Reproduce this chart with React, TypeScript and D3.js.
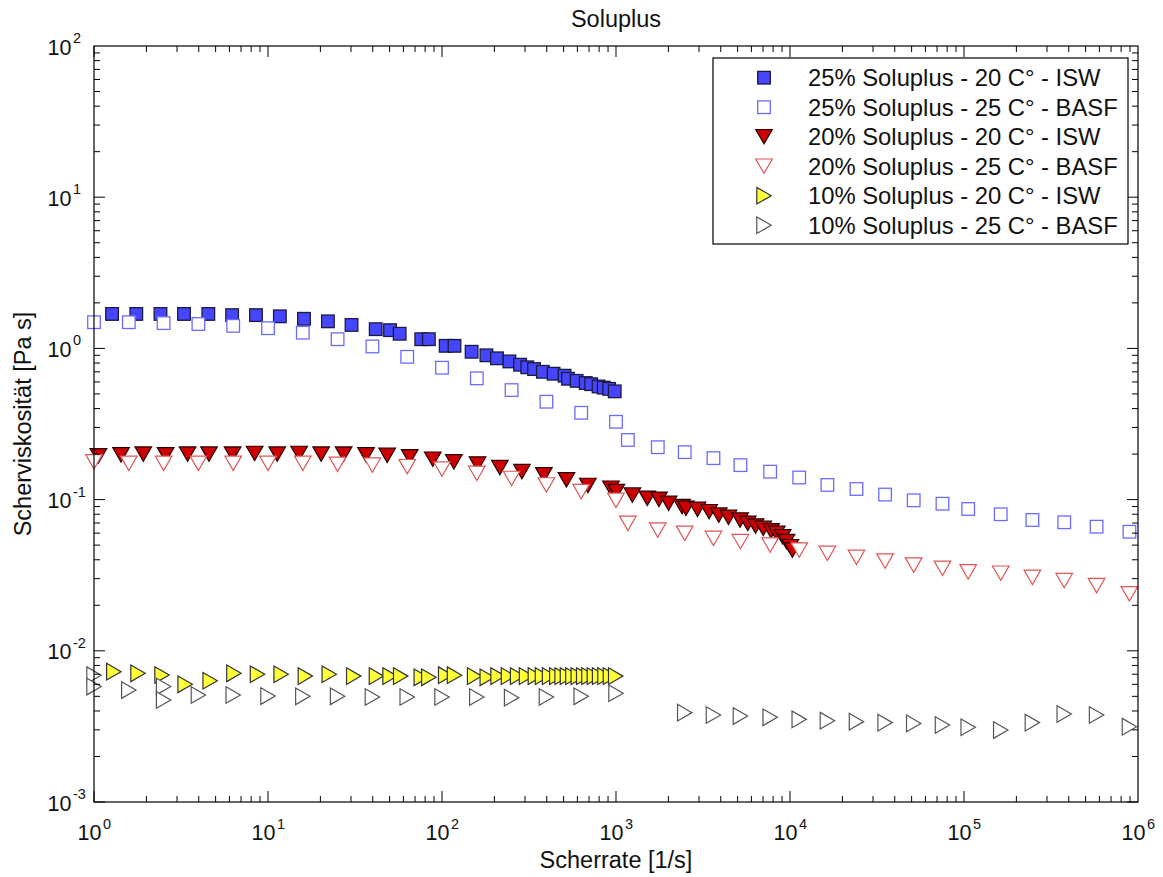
import React from "react";
import * as d3 from "d3";

// ---- Data ----
const isw25X = [1.27, 1.75, 2.41, 3.29, 4.54, 6.22, 8.53, 11.7, 16.1, 22.1, 30.2, 41.6, 50.3, 57.1, 76, 84, 105, 118, 148, 180, 207, 244, 281, 309, 338, 380, 438, 506, 530, 594, 670, 720, 794, 850, 913, 983];
const isw25Y = [1.69, 1.69, 1.69, 1.69, 1.69, 1.66, 1.66, 1.63, 1.57, 1.51, 1.43, 1.34, 1.32, 1.25, 1.15, 1.15, 1.04, 1.04, 0.95, 0.9, 0.86, 0.82, 0.78, 0.75, 0.73, 0.7, 0.68, 0.66, 0.63, 0.61, 0.59, 0.58, 0.56, 0.55, 0.54, 0.52];

const basfX = [1, 1.585, 2.512, 3.981, 6.31, 10, 15.85, 25.12, 39.81, 63.1, 100, 158.5, 251.2, 398.1, 631, 1000, 1170, 1738, 2483, 3631, 5188, 7691, 11300, 16400, 24100, 35200, 51400, 75200, 105700, 162600, 247200, 376700, 578000, 893000];
const basf25Y = [1.49, 1.49, 1.47, 1.45, 1.41, 1.36, 1.27, 1.15, 1.03, 0.88, 0.745, 0.634, 0.53, 0.444, 0.375, 0.327, 0.248, 0.222, 0.206, 0.188, 0.169, 0.153, 0.14, 0.125, 0.1175, 0.108, 0.0989, 0.0939, 0.0867, 0.08, 0.0733, 0.0708, 0.0662, 0.0613];

const isw20X = [1.06, 1.43, 1.92, 2.58, 3.45, 4.58, 6.26, 8.38, 11.3, 15.1, 20.2, 27.2, 36.6, 48.4, 65.2, 88.5, 117, 160, 215, 288, 385, 519, 689, 935, 1004, 1242, 1513, 1765, 2005, 2398, 2524, 2940, 3428, 3897, 4429, 5166, 5717, 6339, 7017, 7778, 8395, 9072, 9550, 10050, 10320];
const isw20Y = [0.195, 0.198, 0.2, 0.198, 0.2, 0.2, 0.2, 0.202, 0.2, 0.202, 0.2, 0.2, 0.198, 0.196, 0.192, 0.185, 0.178, 0.172, 0.163, 0.153, 0.146, 0.135, 0.124, 0.119, 0.113, 0.107, 0.102, 0.1005, 0.0946, 0.0898, 0.0876, 0.0862, 0.0832, 0.079, 0.0763, 0.0733, 0.0697, 0.0669, 0.0645, 0.0622, 0.0598, 0.0568, 0.0527, 0.0488, 0.0464];

const basf20Y = [0.178, 0.174, 0.174, 0.174, 0.174, 0.174, 0.174, 0.171, 0.169, 0.165, 0.159, 0.149, 0.138, 0.125, 0.113, 0.099, 0.0697, 0.0629, 0.0598, 0.0554, 0.0527, 0.0501, 0.0464, 0.0441, 0.0415, 0.0392, 0.0369, 0.0351, 0.0333, 0.0326, 0.0306, 0.0291, 0.027, 0.0238];

const isw10X = [1.3, 1.79, 2.46, 3.34, 4.65, 6.37, 8.7, 11.9, 16.4, 22.5, 31.1, 42, 50.3, 57.9, 76, 84, 105, 118, 154, 182, 210, 241, 272, 306, 344, 378, 415, 457, 490, 526, 565, 607, 652, 699, 751, 805, 864, 929, 996];
const isw10Y = [0.00728, 0.0071, 0.00692, 0.006, 0.00634, 0.0071, 0.007, 0.007, 0.0068, 0.007, 0.0068, 0.0068, 0.0068, 0.0068, 0.00668, 0.00668, 0.0069, 0.0069, 0.0068, 0.00668, 0.0068, 0.0068, 0.0068, 0.0068, 0.0068, 0.0068, 0.0068, 0.0068, 0.0068, 0.0068, 0.0068, 0.0068, 0.0068, 0.0068, 0.0068, 0.0068, 0.0068, 0.0068, 0.0068];

const basf10X = [1, 1, 1.585, 2.512, 2.512, 3.981, 6.31, 10, 15.85, 25.12, 39.81, 63.1, 100, 158.5, 251.2, 398.1, 631, 1000, 2483, 3631, 5188, 7691, 11300, 16400, 24100, 35200, 51400, 75200, 105700, 162600, 247200, 376700, 578000, 893000];
const basf10Y = [0.0069, 0.0058, 0.0055, 0.0058, 0.00473, 0.0051, 0.0051, 0.00502, 0.005, 0.005, 0.00495, 0.00495, 0.00495, 0.00495, 0.0049, 0.00495, 0.005, 0.00524, 0.0039, 0.00376, 0.0037, 0.00363, 0.00352, 0.00345, 0.0034, 0.00335, 0.00331, 0.00323, 0.00312, 0.00299, 0.00335, 0.00382, 0.00376, 0.00315];

const seriesLabels = [
  "25% Soluplus - 20 C° - ISW",
  "25% Soluplus - 25 C° - BASF",
  "20% Soluplus - 20 C° - ISW",
  "20% Soluplus - 25 C° - BASF",
  "10% Soluplus - 20 C° - ISW",
  "10% Soluplus - 25 C° - BASF",
];

const xTickExps = [0, 1, 2, 3, 4, 5, 6];
const yTickExps = [-3, -2, -1, 0, 1, 2];

// ---- Layout ----
const W = 1163, H = 877;
const L = 94, R = 1138, T = 46, B = 802;
const FONT = "'Liberation Sans', Arial, Helvetica, sans-serif";

type Shape = "square" | "down" | "right";
interface Style { shape: Shape; fill: string; stroke: string; }

const styles: Style[] = [
  { shape: "square", fill: "#4646ff", stroke: "#1a1a40" },
  { shape: "square", fill: "#ffffff", stroke: "#6b6bff" },
  { shape: "down", fill: "#cc0000", stroke: "#2a0000" },
  { shape: "down", fill: "#ffffff", stroke: "#e05555" },
  { shape: "right", fill: "#ffff3a", stroke: "#333333" },
  { shape: "right", fill: "#ffffff", stroke: "#555555" },
];

function Marker({ x, y, s }: { x: number; y: number; s: Style }) {
  if (s.shape === "square") {
    return <rect x={x - 6.3} y={y - 6.3} width={12.6} height={12.6} fill={s.fill} stroke={s.stroke} strokeWidth={1.3} />;
  }
  if (s.shape === "down") {
    const p = `M${x - 8.3},${y - 7.2}L${x + 8.3},${y - 7.2}L${x},${y + 7.2}Z`;
    return <path d={p} fill={s.fill} stroke={s.stroke} strokeWidth={1.2} />;
  }
  const p = `M${x - 7.2},${y - 8.3}L${x + 7.2},${y}L${x - 7.2},${y + 8.3}Z`;
  return <path d={p} fill={s.fill} stroke={s.stroke} strokeWidth={1.2} />;
}

export default function App() {
  const xs = d3.scaleLog().domain([1, 1e6]).range([L, R]);
  const ys = d3.scaleLog().domain([1e-3, 1e2]).range([B, T]);

  const data: [number[], number[]][] = [
    [isw25X, isw25Y],
    [basfX, basf25Y],
    [isw20X, isw20Y],
    [basfX, basf20Y],
    [isw10X, isw10Y],
    [basf10X, basf10Y],
  ];
  // draw order: filled series first, then open markers on top
  const order = [0, 2, 4, 1, 3, 5];

  const ticks: JSX.Element[] = [];
  for (let e = 0; e < 6; e++) {
    for (let m = 1; m < 10; m++) {
      const v = m * Math.pow(10, e);
      const px = xs(v);
      const len = m === 1 ? 11 : 6;
      ticks.push(<line key={`xb${e}${m}`} x1={px} x2={px} y1={B} y2={B - len} stroke="#000" strokeWidth={1} />);
      ticks.push(<line key={`xt${e}${m}`} x1={px} x2={px} y1={T} y2={T + len} stroke="#000" strokeWidth={1} />);
    }
  }
  for (let e = -3; e < 2; e++) {
    for (let m = 1; m < 10; m++) {
      const v = m * Math.pow(10, e);
      const py = ys(v);
      const len = m === 1 ? 11 : 6;
      ticks.push(<line key={`yl${e}${m}`} x1={L} x2={L + len} y1={py} y2={py} stroke="#000" strokeWidth={1} />);
      ticks.push(<line key={`yr${e}${m}`} x1={R} x2={R - len} y1={py} y2={py} stroke="#000" strokeWidth={1} />);
    }
  }

  return (
    <svg width={W} height={H} style={{ position: "absolute", left: 0, top: 0, background: "#fff" }} fontFamily={FONT}>
      <rect x={0} y={0} width={W} height={H} fill="#fff" />
      <text x={(L + R) / 2} y={27} textAnchor="middle" fontSize={23.5} fill="#111">Soluplus</text>

      {order.map((si) => {
        const [xv, yv] = data[si];
        return (
          <g key={`s${si}`}>
            {xv.map((xx, i) => (
              <Marker key={i} x={xs(xx)} y={ys(yv[i])} s={styles[si]} />
            ))}
          </g>
        );
      })}

      <rect x={L} y={T} width={R - L} height={B - T} fill="none" stroke="#000" strokeWidth={1.2} />
      {ticks}

      {xTickExps.map((e) => {
        const px = xs(Math.pow(10, e));
        return (
          <g key={`xl${e}`} fill="#111">
            <text x={px + 7.5} y={839.5} textAnchor="end" fontSize={21.5}>10</text>
            <text x={px + 9} y={829} textAnchor="start" fontSize={14.5}>{String(e)}</text>
          </g>
        );
      })}
      {yTickExps.map((e) => {
        const py = ys(Math.pow(10, e));
        return (
          <g key={`yl${e}`} fill="#111">
            <text x={71.5} y={py + 8.5} textAnchor="end" fontSize={21.5}>10</text>
            <text x={73} y={py - 3} textAnchor="start" fontSize={14.5}>{String(e)}</text>
          </g>
        );
      })}

      <text x={(L + R) / 2} y={868} textAnchor="middle" fontSize={23.5} fill="#111">Scherrate [1/s]</text>
      <text transform={`translate(30.5,${(T + B) / 2}) rotate(-90)`} textAnchor="middle" fontSize={23.5} fill="#111">Scherviskosität [Pa s]</text>

      <rect x={713} y={58} width={415} height={186} fill="#fff" stroke="#000" strokeWidth={1.2} />
      {seriesLabels.map((lab, i) => {
        const cy = 77.7 + i * 29.5;
        return (
          <g key={`lg${i}`}>
            <Marker x={764} y={cy} s={styles[i]} />
            <text x={808} y={cy + 8.3} fontSize={23.8} fill="#111">{lab}</text>
          </g>
        );
      })}
    </svg>
  );
}
